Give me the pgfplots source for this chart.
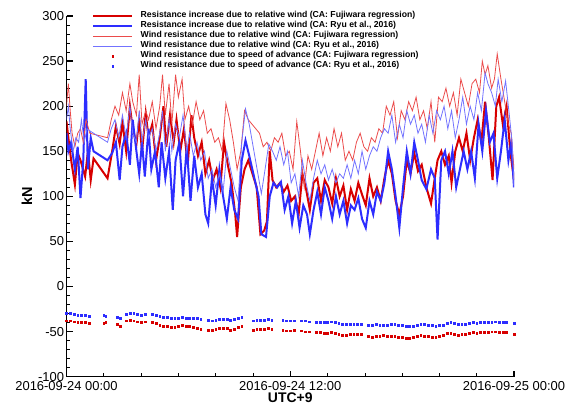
\documentclass[border=0pt]{standalone}
\usepackage{fontspec}
\setmainfont{Liberation Sans}
\usepackage{pgfplots}
\pgfplotsset{compat=1.18}

\definecolor{thickred}{RGB}{215,0,0}
\definecolor{thickblue}{RGB}{45,45,255}
\definecolor{thinred}{RGB}{235,75,75}
\definecolor{thinblue}{RGB}{115,115,255}

\pgfplotsset{
  linelegend/.style={legend image code/.code={\draw[##1] (0bp,0bp) -- (39bp,0bp);}},
  dotlegend/.style={legend image code/.code={\draw[##1] plot coordinates {(19.5bp,0bp)};}},
}

\begin{document}
\begin{tikzpicture}
\path[use as bounding box] (-66.5bp,-28.3bp) rectangle (502.5bp,376.7bp);
\begin{axis}[
  at={(0,0)}, anchor=south west,
  scale only axis, width=447.5bp, height=360.7bp,
  xmin=0, xmax=24, ymin=-100, ymax=300,
  axis x line*=bottom, axis y line*=left,
  axis line style={line width=1.3bp},
  tick align=inside,
  major tick length=6bp, minor tick length=3.5bp,
  major tick style={line width=1.2bp,black},
  minor tick style={line width=0.6bp,black},
  xtick={0,12,24},
  xticklabels={2016-09-24 00:00,2016-09-24 12:00,2016-09-25 00:00},
  minor x tick num=5,
  ytick={-100,-50,0,50,100,150,200,250,300},
  yticklabels={-100,-50,0,50,100,150,200,250,300},
  minor y tick num=4,
  ticklabel style={font=\fontsize{13}{15}\selectfont},
  xticklabel style={yshift=-1bp},
  yticklabel style={xshift=1bp},
  xlabel={\textbf{UTC+9}},
  xlabel style={font=\fontsize{14}{16}\selectfont, at={(axis description cs:0.5,-0.0595)}, anchor=center},
  ylabel={\textbf{kN}},
  ylabel style={font=\fontsize{14.5}{16}\selectfont, at={(axis description cs:-0.0883,0.5)}, anchor=center},
  legend style={draw=none, fill=none, at={(axis description cs:0.0570,1.0139)}, anchor=north west,
    font=\bfseries\fontsize{8.7}{10}\selectfont, inner sep=0pt, row sep=0pt,
    nodes={inner sep=0pt, text height=6.5bp, text depth=3.5bp},
    /tikz/every odd column/.append style={column sep=7.5bp}},
  legend cell align=left,
  linelegend,
]
% thick red: resistance increase, Fujiwara
\addplot[thickred, line width=2bp] coordinates {
(0.00,183)(0.10,165)(0.25,140)(0.45,113)(0.60,148)(0.75,140)(1.00,122)(1.15,150)(1.30,118)(1.45,142)
(2.20,120)(2.45,150)(2.65,178)(2.85,158)(3.00,182)(3.20,150)(3.40,200)(3.55,175)(3.75,158)(3.90,185)
(4.05,150)(4.25,192)(4.40,165)(4.60,180)(4.80,140)(5.00,165)(5.20,200)(5.35,155)(5.55,190)(5.75,160)
(5.90,185)(6.10,150)(6.30,175)(6.50,135)(6.70,190)(6.85,165)(7.05,145)(7.25,160)(7.45,125)(7.65,140)
(7.85,118)(8.05,130)(8.25,110)(8.45,160)(8.65,135)(8.85,115)(9.05,80)(9.15,55)(9.35,110)(9.55,130)
(9.75,140)(10.20,110)(10.40,58)(10.60,62)(10.75,72)(10.90,150)(11.05,118)(11.25,110)(11.45,115)(11.65,105)
(11.85,112)(12.05,95)(12.25,100)(12.45,80)(12.65,125)(12.85,108)(13.05,85)(13.25,115)(13.45,120)(13.65,95)
(13.85,118)(14.05,110)(14.25,92)(14.45,120)(14.65,100)(14.85,112)(15.05,85)(15.25,108)(15.45,95)(15.65,115)
(15.85,102)(16.05,90)(16.25,120)(16.45,100)(16.65,110)(16.85,95)(17.05,120)(17.25,140)(17.45,125)(17.65,95)
(17.85,80)(18.05,100)(18.25,140)(18.45,125)(18.65,148)(18.85,128)(19.05,135)(19.30,110)(19.55,92)(19.75,120)
(19.90,140)(20.10,150)(20.30,135)(20.50,145)(20.65,115)(20.85,150)(21.05,165)(21.25,150)(21.45,170)(21.65,140)
(21.85,165)(22.05,185)(22.25,160)(22.45,205)(22.65,165)(22.85,118)(23.05,200)(23.20,210)(23.40,180)(23.60,200)
(23.80,150)(24.00,118)};
\addlegendentry{Resistance increase due to relative wind (CA: Fujiwara regression)}
% thick blue: resistance increase, Ryu
\addplot[thickblue, line width=2bp] coordinates {
(0.00,170)(0.10,150)(0.25,160)(0.45,130)(0.60,155)(0.75,98)(0.90,140)(1.03,230)(1.15,130)(1.30,165)
(1.45,150)(2.20,140)(2.45,148)(2.65,160)(2.85,118)(3.00,155)(3.20,170)(3.40,135)(3.55,185)(3.75,150)
(3.90,125)(4.05,160)(4.20,122)(4.40,175)(4.55,130)(4.75,150)(4.95,110)(5.10,160)(5.30,120)(5.50,150)
(5.70,85)(5.85,140)(6.05,160)(6.25,100)(6.45,155)(6.65,95)(6.85,145)(7.05,110)(7.25,125)(7.45,80)
(7.60,70)(7.80,120)(8.00,90)(8.20,130)(8.40,100)(8.60,75)(8.80,110)(9.00,85)(9.20,75)(9.40,140)
(9.60,162)(9.80,145)(10.30,100)(10.45,58)(10.70,55)(10.90,100)(11.10,115)(11.30,110)(11.50,116)(11.70,85)
(11.90,100)(12.10,70)(12.30,95)(12.50,65)(12.70,90)(12.90,80)(13.05,58)(13.25,85)(13.45,105)(13.65,80)
(13.85,110)(14.05,95)(14.25,75)(14.45,100)(14.65,80)(14.85,95)(15.05,70)(15.25,90)(15.45,85)(15.65,98)
(15.85,75)(16.05,65)(16.25,95)(16.45,80)(16.65,105)(16.85,95)(17.05,115)(17.25,150)(17.45,130)(17.65,100)
(17.85,65)(18.05,110)(18.25,150)(18.45,125)(18.65,160)(18.85,140)(19.05,118)(19.30,108)(19.55,130)(19.75,120)
(19.90,52)(20.10,140)(20.30,150)(20.50,125)(20.70,150)(20.90,110)(21.10,130)(21.30,150)(21.50,130)(21.70,150)
(21.90,120)(22.10,180)(22.30,150)(22.50,195)(22.70,160)(22.90,170)(23.10,120)(23.30,150)(23.50,185)(23.70,140)
(23.85,160)(24.00,110)};
\addlegendentry{Resistance increase due to relative wind (CA: Ryu et al., 2016)}
% thin red: wind resistance, Fujiwara
\addplot[thinred, line width=0.8bp] coordinates {
(0.00,200)(0.10,225)(0.20,195)(0.30,170)(0.45,155)(0.60,170)(0.75,175)(0.90,160)(1.05,185)(1.25,170)
(2.20,165)(2.40,185)(2.60,200)(2.80,190)(3.00,215)(3.20,195)(3.40,225)(3.55,205)(3.75,190)(3.90,235)
(4.05,180)(4.25,195)(4.40,185)(4.60,205)(4.80,175)(5.00,200)(5.15,235)(5.30,190)(5.50,225)(5.65,180)
(5.85,235)(6.00,210)(6.20,230)(6.35,185)(6.55,200)(6.75,180)(6.95,205)(7.15,185)(7.35,195)(7.55,170)
(7.75,175)(7.95,160)(8.15,165)(8.35,150)(8.55,203)(8.75,185)(8.95,160)(9.15,130)(9.35,150)(9.55,195)
(9.75,185)(10.35,170)(10.55,155)(10.75,160)(10.95,150)(11.15,165)(11.35,160)(11.55,170)(11.75,145)(11.95,150)
(12.15,130)(12.35,183)(12.55,150)(12.75,110)(12.95,145)(13.15,130)(13.35,150)(13.55,170)(13.75,145)(13.95,165)
(14.15,150)(14.35,175)(14.55,155)(14.75,170)(14.95,140)(15.15,150)(15.35,140)(15.55,160)(15.75,170)(15.95,155)
(16.15,150)(16.35,165)(16.55,160)(16.75,175)(16.95,170)(17.15,200)(17.35,190)(17.55,205)(17.75,165)(17.95,195)
(18.15,185)(18.35,205)(18.55,195)(18.75,210)(18.95,185)(19.15,195)(19.35,175)(19.55,205)(19.75,160)(19.95,210)
(20.15,205)(20.35,220)(20.55,200)(20.75,215)(20.95,190)(21.15,230)(21.35,215)(21.55,200)(21.75,225)(21.95,230)
(22.15,215)(22.30,250)(22.45,235)(22.60,245)(22.80,220)(22.95,230)(23.10,258)(23.30,230)(23.50,205)(23.70,180)
(23.85,170)(24.00,130)};
\addlegendentry{Wind resistance due to relative wind (CA: Fujiwara regression)}
% thin blue: wind resistance, Ryu
\addplot[thinblue, line width=0.8bp] coordinates {
(0.00,185)(0.10,200)(0.20,175)(0.35,150)(0.50,165)(0.65,160)(0.80,185)(0.95,160)(1.10,175)(1.30,172)
(2.20,160)(2.40,175)(2.60,185)(2.80,165)(3.00,190)(3.20,165)(3.40,200)(3.55,170)(3.75,160)(3.90,195)
(4.05,160)(4.25,185)(4.40,165)(4.60,175)(4.80,150)(5.00,170)(5.15,195)(5.30,150)(5.50,185)(5.65,150)
(5.85,180)(6.05,165)(6.25,190)(6.45,150)(6.60,170)(6.80,145)(7.00,160)(7.20,140)(7.40,150)(7.60,120)
(7.80,130)(8.00,110)(8.20,125)(8.40,105)(8.60,150)(8.80,130)(9.00,110)(9.20,95)(9.40,160)(9.60,197)
(9.80,180)(10.45,103)(10.65,130)(10.85,158)(11.05,150)(11.25,140)(11.45,155)(11.65,135)(11.85,150)(12.05,115)
(12.25,125)(12.45,100)(12.65,140)(12.85,115)(13.05,95)(13.25,120)(13.45,140)(13.65,125)(13.85,135)(14.05,118)
(14.25,130)(14.45,115)(14.65,125)(14.85,120)(15.05,135)(15.25,120)(15.45,140)(15.65,125)(15.85,150)(16.05,130)
(16.25,145)(16.45,155)(16.65,150)(16.85,165)(17.05,175)(17.25,170)(17.45,190)(17.65,160)(17.85,180)(18.05,165)
(18.25,195)(18.45,180)(18.65,190)(18.85,170)(19.05,180)(19.25,160)(19.45,190)(19.65,170)(19.85,195)(20.05,185)
(20.25,200)(20.45,175)(20.65,195)(20.85,165)(21.05,185)(21.25,210)(21.45,180)(21.65,200)(21.85,185)(22.05,215)
(22.25,195)(22.45,237)(22.60,225)(22.80,215)(23.00,200)(23.15,230)(23.35,205)(23.55,228)(23.75,190)(23.90,160)
(24.00,110)};
\addlegendentry{Wind resistance due to relative wind (CA: Ryu et al., 2016)}
% dots: speed of advance
\addplot[only marks, mark=square*, mark size=0.9bp, color=thickred, dotlegend] coordinates {
(0.0,-38)(0.2,-38)(0.4,-39)(0.6,-40)(0.8,-40)(1.0,-40)(1.2,-41)(2.0,-41)(2.1,-40)(2.7,-42)
(2.9,-44)(3.2,-38)(3.4,-37)(3.6,-38)(3.8,-39)(4.0,-40)(4.2,-39)(4.6,-40)(4.8,-41)(5.0,-43)
(5.2,-44)(5.4,-44)(5.6,-45)(5.8,-45)(6.0,-44)(6.2,-43)(6.4,-44)(6.6,-44)(6.8,-45)(7.0,-46)
(7.2,-47)(7.6,-48)(7.8,-48)(8.0,-47)(8.2,-46)(8.4,-46)(8.6,-46)(8.8,-48)(9.0,-47)(9.2,-45)
(9.4,-44)(10.0,-48)(10.2,-47)(10.4,-47)(10.6,-47)(10.8,-46)(11.0,-47)(11.6,-48)(11.8,-49)(12.0,-49)
(12.2,-48)(12.6,-49)(12.8,-50)(13.0,-50)(13.4,-51)(13.6,-51)(13.8,-52)(14.0,-52)(14.2,-51)(14.4,-52)
(14.6,-53)(14.8,-54)(15.0,-54)(15.2,-53)(15.4,-53)(15.6,-53)(15.8,-53)(16.2,-55)(16.4,-56)(16.6,-55)
(16.8,-55)(17.0,-54)(17.2,-55)(17.4,-55)(17.6,-55)(17.8,-56)(18.0,-56)(18.2,-57)(18.4,-57)(18.6,-56)
(18.8,-55)(19.0,-54)(19.2,-55)(19.4,-55)(19.6,-56)(19.8,-56)(20.0,-55)(20.2,-54)(20.4,-52)(20.6,-52)
(20.8,-53)(21.0,-54)(21.2,-53)(21.4,-53)(21.6,-52)(21.8,-51)(22.0,-52)(22.2,-51)(22.4,-51)(22.6,-51)
(22.8,-50)(23.0,-50)(23.2,-51)(23.4,-51)(23.6,-51)(24.0,-53)};
\addlegendentry{Wind resistance due to speed of advance (CA: Fujiwara regression)}
\addplot[only marks, mark=square*, mark size=0.9bp, color=thickblue, dotlegend] coordinates {
(0.0,-30)(0.2,-30)(0.4,-31)(0.6,-32)(0.8,-32)(1.0,-32)(1.2,-33)(2.0,-32)(2.1,-33)(2.7,-34)
(2.9,-35)(3.2,-31)(3.4,-30)(3.6,-30)(3.8,-31)(4.0,-32)(4.2,-31)(4.6,-31)(4.8,-32)(5.0,-33)
(5.2,-34)(5.4,-34)(5.6,-35)(5.8,-35)(6.0,-35)(6.2,-34)(6.4,-35)(6.6,-35)(6.8,-35)(7.0,-35)
(7.2,-36)(7.6,-37)(7.8,-38)(8.0,-37)(8.2,-36)(8.4,-36)(8.6,-36)(8.8,-37)(9.0,-36)(9.2,-35)
(9.4,-34)(10.0,-38)(10.2,-37)(10.4,-37)(10.6,-37)(10.8,-36)(11.0,-37)(11.6,-37)(11.8,-38)(12.0,-38)
(12.2,-38)(12.6,-38)(12.8,-38)(13.0,-39)(13.4,-40)(13.6,-40)(13.8,-40)(14.0,-40)(14.2,-39)(14.4,-40)
(14.6,-41)(14.8,-42)(15.0,-42)(15.2,-42)(15.4,-42)(15.6,-42)(15.8,-42)(16.2,-43)(16.4,-43)(16.6,-42)
(16.8,-43)(17.0,-43)(17.2,-43)(17.4,-42)(17.6,-42)(17.8,-43)(18.0,-43)(18.2,-44)(18.4,-44)(18.6,-44)
(18.8,-43)(19.0,-42)(19.2,-42)(19.4,-43)(19.6,-43)(19.8,-44)(20.0,-43)(20.2,-43)(20.4,-41)(20.6,-40)
(20.8,-41)(21.0,-42)(21.2,-42)(21.4,-42)(21.6,-41)(21.8,-40)(22.0,-41)(22.2,-40)(22.4,-40)(22.6,-40)
(22.8,-40)(23.0,-39)(23.2,-40)(23.4,-40)(23.6,-40)(24.0,-41)};
\addlegendentry{Wind resistance due to speed of advance (CA: Ryu et al., 2016)}
\end{axis}
\end{tikzpicture}
\end{document}
